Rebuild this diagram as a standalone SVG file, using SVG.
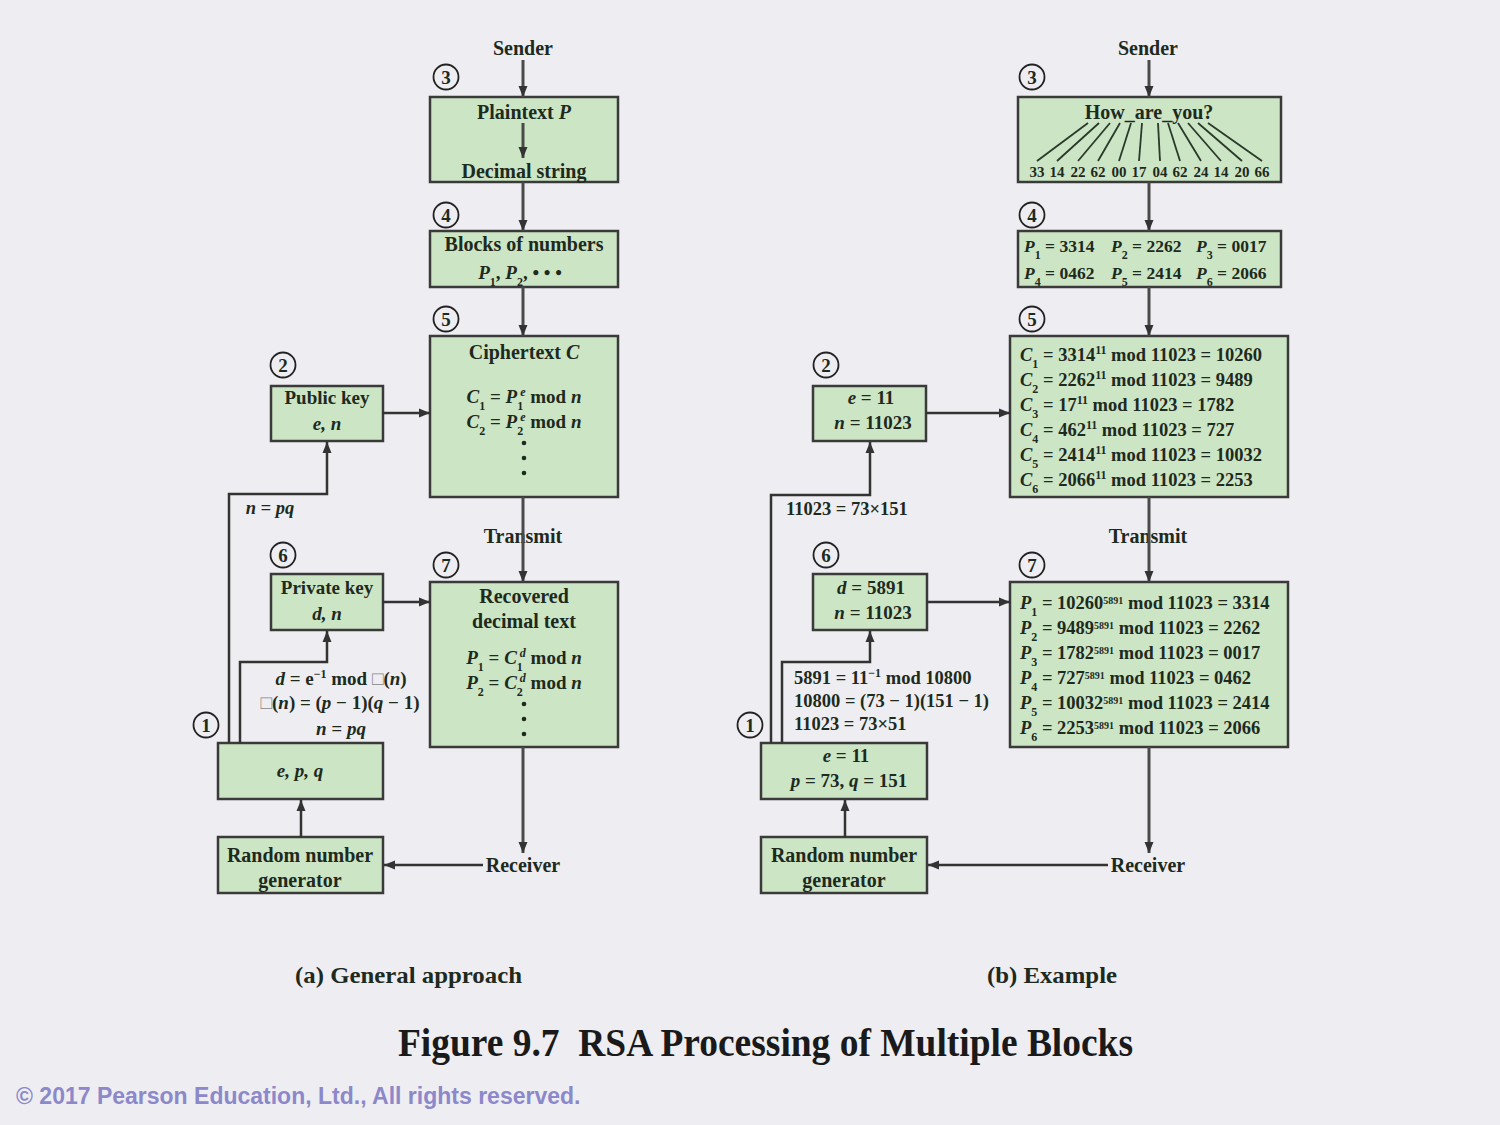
<svg xmlns="http://www.w3.org/2000/svg" width="1500" height="1125" viewBox="0 0 1500 1125">
<defs>
<marker id="ah" markerUnits="userSpaceOnUse" markerWidth="12" markerHeight="10" refX="11" refY="5" orient="auto">
<path d="M0,0.5 L11,5 L0,9.5 z" fill="#333"/>
</marker>
<style>
.bx{fill:#cce5c5;stroke:#3a3a3a;stroke-width:2.5}
.t{font-family:"Liberation Serif","Times New Roman",serif;font-weight:bold;fill:#1d2a1d}
.f20{font-size:20px}
.f19{font-size:19px}
.f18{font-size:18.5px}
.f17{font-size:17.5px}
.f15{font-size:15px}
.m{text-anchor:middle}
.i{font-style:italic}
.sb{font-size:12px;baseline-shift:sub}
.sp{font-size:12px;baseline-shift:super}
.sp5{font-size:10px;baseline-shift:super}
.cn{fill:none;stroke:#333;stroke-width:2.5}
.mn{fill:none;stroke:#4a4a4a;stroke-width:3}
.fan{stroke:#2a3a2a;stroke-width:1.8}
.cc{fill:none;stroke:#222;stroke-width:1.8}
.ph{fill:#888}
</style>
</defs>
<rect x="0" y="0" width="1500" height="1125" fill="#eeeef2"/>

<!-- ===== Left (a) ===== -->
<g id="sender-a"><text class="t f20 m" x="523" y="55">Sender</text></g>

<g id="plaintext-a">
<rect class="bx" x="430" y="97" width="188" height="85"/>
<text class="t f20 m" x="524" y="119">Plaintext <tspan class="i">P</tspan></text>
<text class="t f20 m" x="524" y="178">Decimal string</text>
</g>

<g id="blocks-a">
<rect class="bx" x="430" y="231" width="188" height="56"/>
<text class="t f20 m" x="524" y="251">Blocks of numbers</text>
<text class="t f19 m" x="520" y="279"><tspan class="i">P</tspan><tspan class="sb">1</tspan>, <tspan class="i">P</tspan><tspan class="sb">2</tspan>, • • •</text>
</g>

<g id="ciphertext-a">
<rect class="bx" x="430" y="336" width="188" height="161"/>
<text class="t f20 m" x="524" y="359">Ciphertext <tspan class="i">C</tspan></text>
<text class="t f19 m" x="524" y="403"><tspan class="i">C</tspan><tspan class="sb">1</tspan> = <tspan class="i">P</tspan><tspan class="sb">1</tspan><tspan class="sp i" dx="-3">e</tspan> mod <tspan class="i">n</tspan></text>
<text class="t f19 m" x="524" y="428"><tspan class="i">C</tspan><tspan class="sb">2</tspan> = <tspan class="i">P</tspan><tspan class="sb">2</tspan><tspan class="sp i" dx="-3">e</tspan> mod <tspan class="i">n</tspan></text>
<circle cx="524" cy="443" r="2.3" fill="#1d2a1d"/>
<circle cx="524" cy="458" r="2.3" fill="#1d2a1d"/>
<circle cx="524" cy="473" r="2.3" fill="#1d2a1d"/>
</g>

<g id="transmit-a"><text class="t f20 m" x="523" y="543">Transmit</text></g>

<g id="recovered-a">
<rect class="bx" x="430" y="582" width="188" height="165"/>
<text class="t f20 m" x="524" y="603">Recovered</text>
<text class="t f20 m" x="524" y="628">decimal text</text>
<text class="t f19 m" x="524" y="664"><tspan class="i">P</tspan><tspan class="sb">1</tspan> = <tspan class="i">C</tspan><tspan class="sb">1</tspan><tspan class="sp i" dx="-3">d</tspan> mod <tspan class="i">n</tspan></text>
<text class="t f19 m" x="524" y="689"><tspan class="i">P</tspan><tspan class="sb">2</tspan> = <tspan class="i">C</tspan><tspan class="sb">2</tspan><tspan class="sp i" dx="-3">d</tspan> mod <tspan class="i">n</tspan></text>
<circle cx="524" cy="704" r="2.3" fill="#1d2a1d"/>
<circle cx="524" cy="719" r="2.3" fill="#1d2a1d"/>
<circle cx="524" cy="734" r="2.3" fill="#1d2a1d"/>
</g>

<g id="receiver-a"><text class="t f20 m" x="523" y="872">Receiver</text></g>

<g id="rng-a">
<rect class="bx" x="218" y="837" width="165" height="56"/>
<text class="t f20 m" x="300" y="862">Random number</text>
<text class="t f20 m" x="300" y="887">generator</text>
</g>

<g id="epq-a">
<rect class="bx" x="218" y="743" width="165" height="56"/>
<text class="t f19 m i" x="300" y="777">e, p, q</text>
</g>

<g id="pubkey-a">
<rect class="bx" x="271" y="386" width="112" height="55"/>
<text class="t f19 m" x="327" y="404">Public key</text>
<text class="t f19 m i" x="327" y="430">e, n</text>
</g>

<g id="privkey-a">
<rect class="bx" x="271" y="574" width="112" height="56"/>
<text class="t f19 m" x="327" y="594">Private key</text>
<text class="t f19 m i" x="327" y="620">d, n</text>
</g>

<g id="labels-a">
<text class="t f18 m i" x="270" y="514">n = pq</text>
<text class="t f19 m" x="341" y="685"><tspan class="i">d</tspan> = e<tspan class="sp">−1</tspan> mod <tspan class="ph">□</tspan>(<tspan class="i">n</tspan>)</text>
<text class="t f19 m" x="340" y="709"><tspan class="ph">□</tspan>(<tspan class="i">n</tspan>) = (<tspan class="i">p</tspan> − 1)(<tspan class="i">q</tspan> − 1)</text>
<text class="t f19 m i" x="341" y="735">n = pq</text>
</g>

<g id="steps-a">
<circle class="cc" cx="446" cy="77" r="12.5"/><text class="t f19 m" x="446" y="84">3</text>
<circle class="cc" cx="446" cy="215" r="12.5"/><text class="t f19 m" x="446" y="222">4</text>
<circle class="cc" cx="446" cy="319" r="12.5"/><text class="t f19 m" x="446" y="326">5</text>
<circle class="cc" cx="283" cy="365" r="12.5"/><text class="t f19 m" x="283" y="372">2</text>
<circle class="cc" cx="283" cy="555" r="12.5"/><text class="t f19 m" x="283" y="562">6</text>
<circle class="cc" cx="446" cy="565" r="12.5"/><text class="t f19 m" x="446" y="572">7</text>
<circle class="cc" cx="206" cy="725" r="12.5"/><text class="t f19 m" x="206" y="732">1</text>
</g>

<!-- ===== Right (b) ===== -->
<g id="sender-b"><text class="t f20 m" x="1148" y="55">Sender</text></g>

<g id="plaintext-b">
<rect class="bx" x="1018" y="97" width="263" height="85"/>
<text class="t f20 m" x="1149" y="119">How_are_you?</text>
<g class="fan">
<line x1="1088" y1="123" x2="1037" y2="161"/>
<line x1="1099" y1="123" x2="1057" y2="161"/>
<line x1="1110" y1="123" x2="1078" y2="161"/>
<line x1="1120" y1="123" x2="1098" y2="161"/>
<line x1="1131" y1="123" x2="1119" y2="161"/>
<line x1="1142" y1="123" x2="1139" y2="161"/>
<line x1="1158" y1="123" x2="1160" y2="161"/>
<line x1="1168" y1="123" x2="1180" y2="161"/>
<line x1="1178" y1="123" x2="1201" y2="161"/>
<line x1="1188" y1="123" x2="1221" y2="161"/>
<line x1="1198" y1="123" x2="1242" y2="161"/>
<line x1="1208" y1="123" x2="1262" y2="161"/>
</g>
<g class="t f15 m">
<text x="1037" y="177">33</text><text x="1057" y="177">14</text><text x="1078" y="177">22</text>
<text x="1098" y="177">62</text><text x="1119" y="177">00</text><text x="1139" y="177">17</text>
<text x="1160" y="177">04</text><text x="1180" y="177">62</text><text x="1201" y="177">24</text>
<text x="1221" y="177">14</text><text x="1242" y="177">20</text><text x="1262" y="177">66</text>
</g>
</g>

<g id="blocks-b">
<rect class="bx" x="1018" y="231" width="263" height="56"/>
<text class="t f17" x="1024" y="252"><tspan class="i">P</tspan><tspan class="sb">1</tspan> = 3314</text>
<text class="t f17" x="1111" y="252"><tspan class="i">P</tspan><tspan class="sb">2</tspan> = 2262</text>
<text class="t f17" x="1196" y="252"><tspan class="i">P</tspan><tspan class="sb">3</tspan> = 0017</text>
<text class="t f17" x="1024" y="279"><tspan class="i">P</tspan><tspan class="sb">4</tspan> = 0462</text>
<text class="t f17" x="1111" y="279"><tspan class="i">P</tspan><tspan class="sb">5</tspan> = 2414</text>
<text class="t f17" x="1196" y="279"><tspan class="i">P</tspan><tspan class="sb">6</tspan> = 2066</text>
</g>

<g id="ciphertext-b">
<rect class="bx" x="1010" y="336" width="278" height="161"/>
<g class="t f18">
<text x="1020" y="361"><tspan class="i">C</tspan><tspan class="sb">1</tspan> = 3314<tspan class="sp">11</tspan> mod 11023 = 10260</text>
<text x="1020" y="386"><tspan class="i">C</tspan><tspan class="sb">2</tspan> = 2262<tspan class="sp">11</tspan> mod 11023 = 9489</text>
<text x="1020" y="411"><tspan class="i">C</tspan><tspan class="sb">3</tspan> = 17<tspan class="sp">11</tspan> mod 11023 = 1782</text>
<text x="1020" y="436"><tspan class="i">C</tspan><tspan class="sb">4</tspan> = 462<tspan class="sp">11</tspan> mod 11023 = 727</text>
<text x="1020" y="461"><tspan class="i">C</tspan><tspan class="sb">5</tspan> = 2414<tspan class="sp">11</tspan> mod 11023 = 10032</text>
<text x="1020" y="486"><tspan class="i">C</tspan><tspan class="sb">6</tspan> = 2066<tspan class="sp">11</tspan> mod 11023 = 2253</text>
</g>
</g>

<g id="transmit-b"><text class="t f20 m" x="1148" y="543">Transmit</text></g>

<g id="recovered-b">
<rect class="bx" x="1010" y="582" width="278" height="165"/>
<g class="t f18">
<text x="1020" y="609"><tspan class="i">P</tspan><tspan class="sb">1</tspan> = 10260<tspan class="sp5">5891</tspan> mod 11023 = 3314</text>
<text x="1020" y="634"><tspan class="i">P</tspan><tspan class="sb">2</tspan> = 9489<tspan class="sp5">5891</tspan> mod 11023 = 2262</text>
<text x="1020" y="659"><tspan class="i">P</tspan><tspan class="sb">3</tspan> = 1782<tspan class="sp5">5891</tspan> mod 11023 = 0017</text>
<text x="1020" y="684"><tspan class="i">P</tspan><tspan class="sb">4</tspan> = 727<tspan class="sp5">5891</tspan> mod 11023 = 0462</text>
<text x="1020" y="709"><tspan class="i">P</tspan><tspan class="sb">5</tspan> = 10032<tspan class="sp5">5891</tspan> mod 11023 = 2414</text>
<text x="1020" y="734"><tspan class="i">P</tspan><tspan class="sb">6</tspan> = 2253<tspan class="sp5">5891</tspan> mod 11023 = 2066</text>
</g>
</g>

<g id="receiver-b"><text class="t f20 m" x="1148" y="872">Receiver</text></g>

<g id="rng-b">
<rect class="bx" x="761" y="837" width="166" height="56"/>
<text class="t f20 m" x="844" y="862">Random number</text>
<text class="t f20 m" x="844" y="887">generator</text>
</g>

<g id="epq-b">
<rect class="bx" x="761" y="743" width="166" height="56"/>
<text class="t f19 m" x="846" y="762"><tspan class="i">e</tspan> = 11</text>
<text class="t f19 m" x="849" y="787"><tspan class="i">p</tspan> = 73, <tspan class="i">q</tspan> = 151</text>
</g>

<g id="pubkey-b">
<rect class="bx" x="813" y="386" width="113" height="55"/>
<text class="t f19 m" x="871" y="404"><tspan class="i">e</tspan> = 11</text>
<text class="t f19 m" x="873" y="429"><tspan class="i">n</tspan> = 11023</text>
</g>

<g id="privkey-b">
<rect class="bx" x="813" y="574" width="114" height="56"/>
<text class="t f19 m" x="871" y="594"><tspan class="i">d</tspan> = 5891</text>
<text class="t f19 m" x="873" y="619"><tspan class="i">n</tspan> = 11023</text>
</g>

<g id="labels-b">
<text class="t f18" x="786" y="515">11023 = 73×151</text>
<text class="t f18" x="794" y="684">5891 = 11<tspan class="sp">−1</tspan> mod 10800</text>
<text class="t f18" x="794" y="707">10800 = (73 − 1)(151 − 1)</text>
<text class="t f18" x="794" y="730">11023 = 73×51</text>
</g>

<g id="steps-b">
<circle class="cc" cx="1032" cy="77" r="12.5"/><text class="t f19 m" x="1032" y="84">3</text>
<circle class="cc" cx="1032" cy="215" r="12.5"/><text class="t f19 m" x="1032" y="222">4</text>
<circle class="cc" cx="1032" cy="319" r="12.5"/><text class="t f19 m" x="1032" y="326">5</text>
<circle class="cc" cx="826" cy="365" r="12.5"/><text class="t f19 m" x="826" y="372">2</text>
<circle class="cc" cx="826" cy="555" r="12.5"/><text class="t f19 m" x="826" y="562">6</text>
<circle class="cc" cx="1032" cy="565" r="12.5"/><text class="t f19 m" x="1032" y="572">7</text>
<circle class="cc" cx="750" cy="725" r="12.5"/><text class="t f19 m" x="750" y="732">1</text>
</g>

<g id="connectors">
<!-- left -->
<line class="mn" x1="523" y1="60" x2="523" y2="97" marker-end="url(#ah)"/>
<line class="mn" x1="523" y1="123" x2="523" y2="158" marker-end="url(#ah)"/>
<line class="mn" x1="523" y1="182" x2="523" y2="231" marker-end="url(#ah)"/>
<line class="mn" x1="523" y1="287" x2="523" y2="336" marker-end="url(#ah)"/>
<line class="mn" x1="523" y1="497" x2="523" y2="582" marker-end="url(#ah)"/>
<line class="mn" x1="523" y1="747" x2="523" y2="853" marker-end="url(#ah)"/>
<line class="cn" x1="483" y1="865" x2="384" y2="865" marker-end="url(#ah)"/>
<line class="cn" x1="301" y1="837" x2="301" y2="800" marker-end="url(#ah)"/>
<polyline class="cn" points="229,743 229,494 327,494 327,442" marker-end="url(#ah)"/>
<polyline class="cn" points="240,743 240,662 327,662 327,631" marker-end="url(#ah)"/>
<line class="cn" x1="383" y1="413" x2="430" y2="413" marker-end="url(#ah)"/>
<line class="cn" x1="383" y1="602" x2="430" y2="602" marker-end="url(#ah)"/>
<!-- right -->
<line class="mn" x1="1149" y1="60" x2="1149" y2="97" marker-end="url(#ah)"/>
<line class="mn" x1="1149" y1="182" x2="1149" y2="231" marker-end="url(#ah)"/>
<line class="mn" x1="1149" y1="287" x2="1149" y2="336" marker-end="url(#ah)"/>
<line class="mn" x1="1149" y1="497" x2="1149" y2="582" marker-end="url(#ah)"/>
<line class="mn" x1="1149" y1="747" x2="1149" y2="853" marker-end="url(#ah)"/>
<line class="cn" x1="1108" y1="865" x2="928" y2="865" marker-end="url(#ah)"/>
<line class="cn" x1="845" y1="837" x2="845" y2="800" marker-end="url(#ah)"/>
<polyline class="cn" points="771,743 771,495 870,495 870,442" marker-end="url(#ah)"/>
<polyline class="cn" points="782,743 782,662 870,662 870,631" marker-end="url(#ah)"/>
<line class="cn" x1="926" y1="413" x2="1010" y2="413" marker-end="url(#ah)"/>
<line class="cn" x1="927" y1="602" x2="1010" y2="602" marker-end="url(#ah)"/>
</g>

<!-- captions -->
<g id="captions">
<text class="t" style="font-size:24px" x="295" y="983" textLength="227" lengthAdjust="spacingAndGlyphs">(a) General approach</text>
<text class="t" style="font-size:24px" x="987" y="983" textLength="130" lengthAdjust="spacingAndGlyphs">(b) Example</text>
<text class="t" style="font-size:40px;fill:#1a1a1a" x="398" y="1056" textLength="735" lengthAdjust="spacingAndGlyphs">Figure 9.7&#160; RSA Processing of Multiple Blocks</text>
<text style="font-family:'Liberation Sans',Arial,sans-serif;font-weight:bold;font-size:23px;fill:#8c88c9" x="16" y="1104">© 2017 Pearson Education, Ltd., All rights reserved.</text>
</g>
</svg>
